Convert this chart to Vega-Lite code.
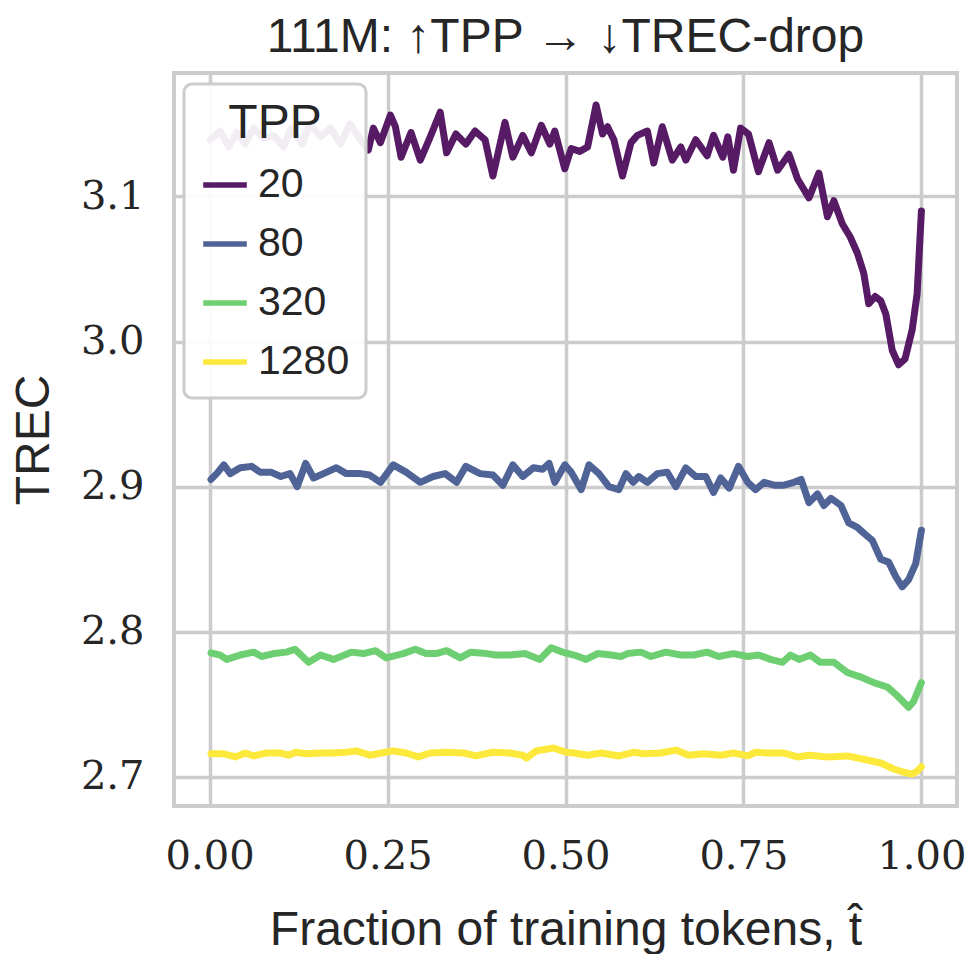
{
  "$schema": "https://vega.github.io/schema/vega-lite/v6.json",
  "width": 783,
  "height": 733,
  "autosize": {"type": "none"},
  "padding": {"left": 174, "top": 73, "right": 9, "bottom": 148},
  "background": "white",
  "title": {"text": "111M: ↑TPP → ↓TREC-drop", "font": "Liberation Sans", "fontSize": 48, "fontWeight": "normal", "color": "#262626", "anchor": "middle", "offset": 11},
  "config": {
    "view": {"stroke": "#cccccc", "strokeWidth": 4},
    "axis": {"domain": false, "ticks": false, "gridColor": "#cccccc", "gridWidth": 3.5, "labelFont": "DejaVu Serif", "labelFontSize": 40, "labelColor": "#262626", "labelPadding": 30, "titleFont": "Liberation Sans", "titleFontSize": 48, "titleFontWeight": "normal", "titleColor": "#262626"},
    "legend": {"strokeWidth": 3}
  },
  "data": {"values": [
    {"TPP":"20","t":0.001,"TREC":3.139},{"TPP":"20","t":0.015,"TREC":3.145},{"TPP":"20","t":0.027,"TREC":3.134},{"TPP":"20","t":0.038,"TREC":3.144},{"TPP":"20","t":0.050,"TREC":3.136},{"TPP":"20","t":0.062,"TREC":3.147},{"TPP":"20","t":0.076,"TREC":3.140},{"TPP":"20","t":0.090,"TREC":3.142},{"TPP":"20","t":0.104,"TREC":3.134},{"TPP":"20","t":0.115,"TREC":3.147},{"TPP":"20","t":0.130,"TREC":3.136},{"TPP":"20","t":0.141,"TREC":3.150},{"TPP":"20","t":0.156,"TREC":3.141},{"TPP":"20","t":0.170,"TREC":3.147},{"TPP":"20","t":0.184,"TREC":3.136},{"TPP":"20","t":0.197,"TREC":3.150},{"TPP":"20","t":0.212,"TREC":3.139},{"TPP":"20","t":0.223,"TREC":3.132},{"TPP":"20","t":0.230,"TREC":3.147},{"TPP":"20","t":0.240,"TREC":3.137},{"TPP":"20","t":0.254,"TREC":3.156},{"TPP":"20","t":0.261,"TREC":3.148},{"TPP":"20","t":0.269,"TREC":3.127},{"TPP":"20","t":0.283,"TREC":3.144},{"TPP":"20","t":0.296,"TREC":3.125},{"TPP":"20","t":0.310,"TREC":3.141},{"TPP":"20","t":0.324,"TREC":3.158},{"TPP":"20","t":0.333,"TREC":3.130},{"TPP":"20","t":0.346,"TREC":3.143},{"TPP":"20","t":0.360,"TREC":3.136},{"TPP":"20","t":0.373,"TREC":3.145},{"TPP":"20","t":0.387,"TREC":3.139},{"TPP":"20","t":0.398,"TREC":3.114},{"TPP":"20","t":0.415,"TREC":3.151},{"TPP":"20","t":0.426,"TREC":3.127},{"TPP":"20","t":0.440,"TREC":3.142},{"TPP":"20","t":0.452,"TREC":3.130},{"TPP":"20","t":0.466,"TREC":3.149},{"TPP":"20","t":0.478,"TREC":3.136},{"TPP":"20","t":0.485,"TREC":3.145},{"TPP":"20","t":0.499,"TREC":3.119},{"TPP":"20","t":0.508,"TREC":3.133},{"TPP":"20","t":0.520,"TREC":3.131},{"TPP":"20","t":0.531,"TREC":3.134},{"TPP":"20","t":0.543,"TREC":3.163},{"TPP":"20","t":0.552,"TREC":3.143},{"TPP":"20","t":0.559,"TREC":3.148},{"TPP":"20","t":0.568,"TREC":3.139},{"TPP":"20","t":0.580,"TREC":3.114},{"TPP":"20","t":0.592,"TREC":3.137},{"TPP":"20","t":0.601,"TREC":3.142},{"TPP":"20","t":0.615,"TREC":3.145},{"TPP":"20","t":0.624,"TREC":3.123},{"TPP":"20","t":0.636,"TREC":3.148},{"TPP":"20","t":0.650,"TREC":3.125},{"TPP":"20","t":0.662,"TREC":3.134},{"TPP":"20","t":0.669,"TREC":3.125},{"TPP":"20","t":0.683,"TREC":3.139},{"TPP":"20","t":0.699,"TREC":3.128},{"TPP":"20","t":0.708,"TREC":3.142},{"TPP":"20","t":0.721,"TREC":3.127},{"TPP":"20","t":0.728,"TREC":3.141},{"TPP":"20","t":0.736,"TREC":3.118},{"TPP":"20","t":0.746,"TREC":3.147},{"TPP":"20","t":0.757,"TREC":3.143},{"TPP":"20","t":0.771,"TREC":3.117},{"TPP":"20","t":0.786,"TREC":3.137},{"TPP":"20","t":0.798,"TREC":3.118},{"TPP":"20","t":0.814,"TREC":3.129},{"TPP":"20","t":0.826,"TREC":3.112},{"TPP":"20","t":0.842,"TREC":3.099},{"TPP":"20","t":0.856,"TREC":3.116},{"TPP":"20","t":0.868,"TREC":3.086},{"TPP":"20","t":0.877,"TREC":3.097},{"TPP":"20","t":0.889,"TREC":3.081},{"TPP":"20","t":0.900,"TREC":3.072},{"TPP":"20","t":0.910,"TREC":3.061},{"TPP":"20","t":0.919,"TREC":3.047},{"TPP":"20","t":0.926,"TREC":3.026},{"TPP":"20","t":0.935,"TREC":3.031},{"TPP":"20","t":0.943,"TREC":3.028},{"TPP":"20","t":0.950,"TREC":3.019},{"TPP":"20","t":0.959,"TREC":2.994},{"TPP":"20","t":0.968,"TREC":2.984},{"TPP":"20","t":0.977,"TREC":2.988},{"TPP":"20","t":0.987,"TREC":3.008},{"TPP":"20","t":0.994,"TREC":3.033},{"TPP":"20","t":1.000,"TREC":3.090},
    {"TPP":"80","t":0.002,"TREC":2.905},{"TPP":"80","t":0.010,"TREC":2.909},{"TPP":"80","t":0.020,"TREC":2.915},{"TPP":"80","t":0.029,"TREC":2.909},{"TPP":"80","t":0.043,"TREC":2.913},{"TPP":"80","t":0.059,"TREC":2.914},{"TPP":"80","t":0.071,"TREC":2.910},{"TPP":"80","t":0.086,"TREC":2.910},{"TPP":"80","t":0.100,"TREC":2.907},{"TPP":"80","t":0.113,"TREC":2.909},{"TPP":"80","t":0.123,"TREC":2.900},{"TPP":"80","t":0.135,"TREC":2.916},{"TPP":"80","t":0.146,"TREC":2.906},{"TPP":"80","t":0.160,"TREC":2.909},{"TPP":"80","t":0.178,"TREC":2.913},{"TPP":"80","t":0.192,"TREC":2.909},{"TPP":"80","t":0.212,"TREC":2.909},{"TPP":"80","t":0.225,"TREC":2.908},{"TPP":"80","t":0.240,"TREC":2.903},{"TPP":"80","t":0.258,"TREC":2.915},{"TPP":"80","t":0.276,"TREC":2.910},{"TPP":"80","t":0.296,"TREC":2.903},{"TPP":"80","t":0.314,"TREC":2.907},{"TPP":"80","t":0.331,"TREC":2.909},{"TPP":"80","t":0.347,"TREC":2.903},{"TPP":"80","t":0.360,"TREC":2.914},{"TPP":"80","t":0.380,"TREC":2.909},{"TPP":"80","t":0.398,"TREC":2.908},{"TPP":"80","t":0.412,"TREC":2.901},{"TPP":"80","t":0.426,"TREC":2.915},{"TPP":"80","t":0.440,"TREC":2.907},{"TPP":"80","t":0.455,"TREC":2.913},{"TPP":"80","t":0.468,"TREC":2.912},{"TPP":"80","t":0.477,"TREC":2.916},{"TPP":"80","t":0.485,"TREC":2.903},{"TPP":"80","t":0.499,"TREC":2.915},{"TPP":"80","t":0.508,"TREC":2.910},{"TPP":"80","t":0.522,"TREC":2.898},{"TPP":"80","t":0.533,"TREC":2.915},{"TPP":"80","t":0.547,"TREC":2.909},{"TPP":"80","t":0.561,"TREC":2.900},{"TPP":"80","t":0.575,"TREC":2.898},{"TPP":"80","t":0.585,"TREC":2.909},{"TPP":"80","t":0.595,"TREC":2.903},{"TPP":"80","t":0.603,"TREC":2.907},{"TPP":"80","t":0.615,"TREC":2.903},{"TPP":"80","t":0.629,"TREC":2.909},{"TPP":"80","t":0.643,"TREC":2.910},{"TPP":"80","t":0.655,"TREC":2.900},{"TPP":"80","t":0.669,"TREC":2.913},{"TPP":"80","t":0.683,"TREC":2.907},{"TPP":"80","t":0.697,"TREC":2.907},{"TPP":"80","t":0.708,"TREC":2.896},{"TPP":"80","t":0.718,"TREC":2.906},{"TPP":"80","t":0.730,"TREC":2.899},{"TPP":"80","t":0.743,"TREC":2.914},{"TPP":"80","t":0.756,"TREC":2.903},{"TPP":"80","t":0.767,"TREC":2.898},{"TPP":"80","t":0.779,"TREC":2.903},{"TPP":"80","t":0.793,"TREC":2.901},{"TPP":"80","t":0.807,"TREC":2.901},{"TPP":"80","t":0.821,"TREC":2.903},{"TPP":"80","t":0.831,"TREC":2.905},{"TPP":"80","t":0.842,"TREC":2.889},{"TPP":"80","t":0.854,"TREC":2.895},{"TPP":"80","t":0.863,"TREC":2.887},{"TPP":"80","t":0.873,"TREC":2.892},{"TPP":"80","t":0.887,"TREC":2.887},{"TPP":"80","t":0.898,"TREC":2.875},{"TPP":"80","t":0.910,"TREC":2.872},{"TPP":"80","t":0.919,"TREC":2.868},{"TPP":"80","t":0.931,"TREC":2.863},{"TPP":"80","t":0.943,"TREC":2.850},{"TPP":"80","t":0.954,"TREC":2.848},{"TPP":"80","t":0.964,"TREC":2.838},{"TPP":"80","t":0.973,"TREC":2.831},{"TPP":"80","t":0.982,"TREC":2.836},{"TPP":"80","t":0.992,"TREC":2.847},{"TPP":"80","t":1.000,"TREC":2.870},
    {"TPP":"320","t":0.002,"TREC":2.7855},{"TPP":"320","t":0.015,"TREC":2.784},{"TPP":"320","t":0.024,"TREC":2.781},{"TPP":"320","t":0.043,"TREC":2.784},{"TPP":"320","t":0.062,"TREC":2.786},{"TPP":"320","t":0.073,"TREC":2.783},{"TPP":"320","t":0.090,"TREC":2.785},{"TPP":"320","t":0.108,"TREC":2.786},{"TPP":"320","t":0.120,"TREC":2.788},{"TPP":"320","t":0.139,"TREC":2.779},{"TPP":"320","t":0.156,"TREC":2.784},{"TPP":"320","t":0.174,"TREC":2.781},{"TPP":"320","t":0.199,"TREC":2.786},{"TPP":"320","t":0.216,"TREC":2.785},{"TPP":"320","t":0.233,"TREC":2.787},{"TPP":"320","t":0.248,"TREC":2.782},{"TPP":"320","t":0.272,"TREC":2.785},{"TPP":"320","t":0.289,"TREC":2.788},{"TPP":"320","t":0.304,"TREC":2.785},{"TPP":"320","t":0.318,"TREC":2.785},{"TPP":"320","t":0.333,"TREC":2.787},{"TPP":"320","t":0.352,"TREC":2.782},{"TPP":"320","t":0.367,"TREC":2.786},{"TPP":"320","t":0.389,"TREC":2.785},{"TPP":"320","t":0.402,"TREC":2.784},{"TPP":"320","t":0.422,"TREC":2.784},{"TPP":"320","t":0.443,"TREC":2.785},{"TPP":"320","t":0.464,"TREC":2.781},{"TPP":"320","t":0.480,"TREC":2.789},{"TPP":"320","t":0.496,"TREC":2.786},{"TPP":"320","t":0.512,"TREC":2.784},{"TPP":"320","t":0.529,"TREC":2.781},{"TPP":"320","t":0.545,"TREC":2.785},{"TPP":"320","t":0.564,"TREC":2.784},{"TPP":"320","t":0.578,"TREC":2.783},{"TPP":"320","t":0.587,"TREC":2.785},{"TPP":"320","t":0.606,"TREC":2.786},{"TPP":"320","t":0.620,"TREC":2.783},{"TPP":"320","t":0.641,"TREC":2.786},{"TPP":"320","t":0.662,"TREC":2.784},{"TPP":"320","t":0.680,"TREC":2.784},{"TPP":"320","t":0.699,"TREC":2.786},{"TPP":"320","t":0.715,"TREC":2.783},{"TPP":"320","t":0.736,"TREC":2.785},{"TPP":"320","t":0.756,"TREC":2.783},{"TPP":"320","t":0.771,"TREC":2.784},{"TPP":"320","t":0.788,"TREC":2.781},{"TPP":"320","t":0.805,"TREC":2.779},{"TPP":"320","t":0.816,"TREC":2.784},{"TPP":"320","t":0.828,"TREC":2.781},{"TPP":"320","t":0.844,"TREC":2.784},{"TPP":"320","t":0.858,"TREC":2.779},{"TPP":"320","t":0.877,"TREC":2.779},{"TPP":"320","t":0.896,"TREC":2.772},{"TPP":"320","t":0.914,"TREC":2.769},{"TPP":"320","t":0.933,"TREC":2.765},{"TPP":"320","t":0.952,"TREC":2.762},{"TPP":"320","t":0.966,"TREC":2.756},{"TPP":"320","t":0.982,"TREC":2.748},{"TPP":"320","t":0.989,"TREC":2.752},{"TPP":"320","t":1.000,"TREC":2.765},
    {"TPP":"1280","t":0.002,"TREC":2.716},{"TPP":"1280","t":0.020,"TREC":2.716},{"TPP":"1280","t":0.036,"TREC":2.7138},{"TPP":"1280","t":0.050,"TREC":2.7165},{"TPP":"1280","t":0.062,"TREC":2.7145},{"TPP":"1280","t":0.080,"TREC":2.7165},{"TPP":"1280","t":0.100,"TREC":2.7165},{"TPP":"1280","t":0.111,"TREC":2.715},{"TPP":"1280","t":0.121,"TREC":2.717},{"TPP":"1280","t":0.136,"TREC":2.716},{"TPP":"1280","t":0.156,"TREC":2.7165},{"TPP":"1280","t":0.174,"TREC":2.7165},{"TPP":"1280","t":0.192,"TREC":2.717},{"TPP":"1280","t":0.206,"TREC":2.718},{"TPP":"1280","t":0.225,"TREC":2.715},{"TPP":"1280","t":0.241,"TREC":2.7165},{"TPP":"1280","t":0.258,"TREC":2.718},{"TPP":"1280","t":0.276,"TREC":2.7165},{"TPP":"1280","t":0.293,"TREC":2.7138},{"TPP":"1280","t":0.310,"TREC":2.7165},{"TPP":"1280","t":0.333,"TREC":2.717},{"TPP":"1280","t":0.357,"TREC":2.7165},{"TPP":"1280","t":0.374,"TREC":2.7145},{"TPP":"1280","t":0.398,"TREC":2.717},{"TPP":"1280","t":0.422,"TREC":2.7165},{"TPP":"1280","t":0.440,"TREC":2.715},{"TPP":"1280","t":0.445,"TREC":2.713},{"TPP":"1280","t":0.459,"TREC":2.718},{"TPP":"1280","t":0.483,"TREC":2.720},{"TPP":"1280","t":0.501,"TREC":2.717},{"TPP":"1280","t":0.512,"TREC":2.7165},{"TPP":"1280","t":0.531,"TREC":2.715},{"TPP":"1280","t":0.550,"TREC":2.7165},{"TPP":"1280","t":0.575,"TREC":2.7145},{"TPP":"1280","t":0.596,"TREC":2.717},{"TPP":"1280","t":0.610,"TREC":2.716},{"TPP":"1280","t":0.634,"TREC":2.7165},{"TPP":"1280","t":0.655,"TREC":2.7185},{"TPP":"1280","t":0.673,"TREC":2.715},{"TPP":"1280","t":0.694,"TREC":2.716},{"TPP":"1280","t":0.718,"TREC":2.715},{"TPP":"1280","t":0.736,"TREC":2.7165},{"TPP":"1280","t":0.756,"TREC":2.7145},{"TPP":"1280","t":0.767,"TREC":2.717},{"TPP":"1280","t":0.785,"TREC":2.7165},{"TPP":"1280","t":0.807,"TREC":2.7165},{"TPP":"1280","t":0.826,"TREC":2.7138},{"TPP":"1280","t":0.842,"TREC":2.715},{"TPP":"1280","t":0.868,"TREC":2.7138},{"TPP":"1280","t":0.896,"TREC":2.7145},{"TPP":"1280","t":0.924,"TREC":2.7117},{"TPP":"1280","t":0.943,"TREC":2.7096},{"TPP":"1280","t":0.961,"TREC":2.7055},{"TPP":"1280","t":0.975,"TREC":2.7034},{"TPP":"1280","t":0.987,"TREC":2.702},{"TPP":"1280","t":0.994,"TREC":2.704},{"TPP":"1280","t":1.000,"TREC":2.707}
  ]},
  "mark": {"type": "line", "strokeWidth": 7, "strokeCap": "round", "strokeJoin": "round"},
  "encoding": {
    "x": {"field": "t", "type": "quantitative", "scale": {"domain": [-0.05, 1.05], "nice": false, "zero": false}, "axis": {"values": [0, 0.25, 0.5, 0.75, 1], "format": ".2f", "title": "Fraction of training tokens, t̂", "titlePadding": 30}},
    "y": {"field": "TREC", "type": "quantitative", "scale": {"domain": [2.68, 3.185], "nice": false, "zero": false}, "axis": {"values": [2.7, 2.8, 2.9, 3.0, 3.1], "format": ".1f", "title": "TREC", "titlePadding": 22}},
    "color": {"field": "TPP", "type": "nominal", "sort": ["20", "80", "320", "1280"], "scale": {"domain": ["20", "80", "320", "1280"], "range": ["#571a65", "#4f6397", "#6ecf72", "#fde93b"]},
      "legend": {"orient": "none", "legendX": 10, "legendY": 11, "title": "TPP", "titleFont": "Liberation Sans", "titleFontSize": 48, "titleFontWeight": "normal", "titleColor": "#262626", "titleAnchor": "middle", "titlePadding": 12, "labelFont": "Liberation Sans", "labelFontSize": 41, "labelColor": "#262626", "labelOffset": 8, "symbolType": "stroke", "symbolSize": 1900, "symbolStrokeWidth": 5.5, "rowPadding": 14, "padding": 16, "fillColor": "rgba(255,255,255,0.92)", "strokeColor": "#cccccc", "cornerRadius": 8}}
  }
}
